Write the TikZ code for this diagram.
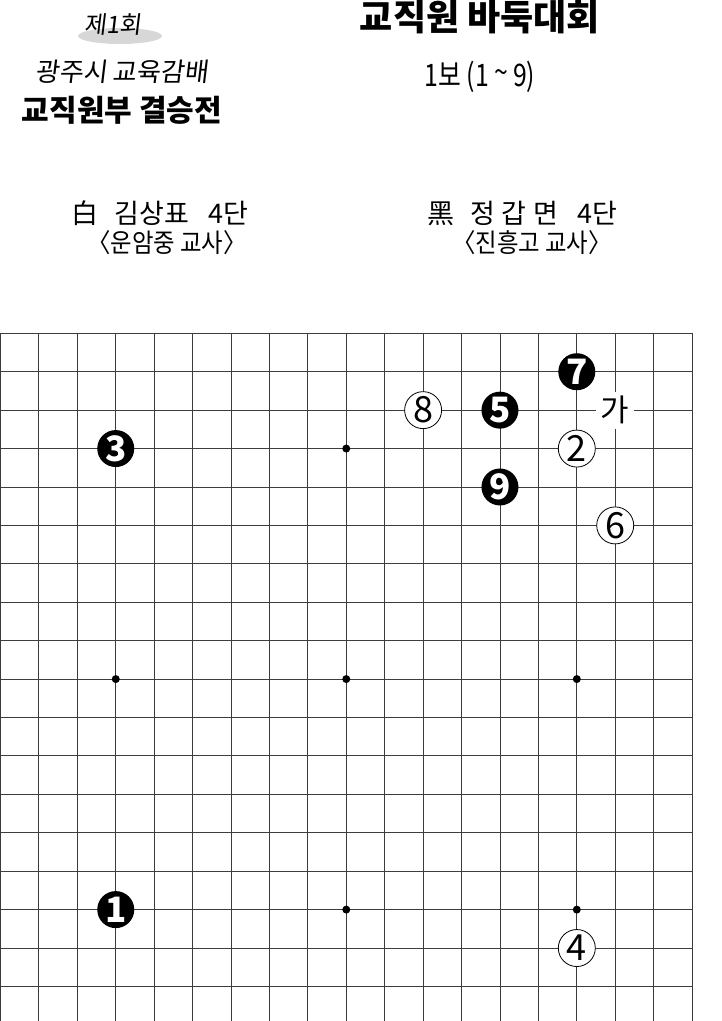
\documentclass[tikz,border=0pt]{standalone}
\usepackage{fontspec}
\setmainfont{Noto Sans CJK KR}
\newfontfamily\handkr[FakeSlant=0.12]{Noto Sans CJK KR}
\newfontfamily\narrowkr[FakeStretch=0.8]{Noto Sans CJK KR}
\newfontfamily\schoolkr[FakeStretch=0.9]{Noto Sans CJK KR}
\definecolor{gridgray}{RGB}{60,60,60}
\definecolor{badgegray}{RGB}{215,215,215}

\begin{document}
\begin{tikzpicture}[x=1pt,y=-1pt,
  bstone/.style={circle,fill=black,minimum size=37pt,inner sep=0pt,text=white,font=\bfseries\fontsize{35}{35}\selectfont},
  wstone/.style={circle,draw=black,line width=0.8pt,fill=white,minimum size=37pt,inner sep=0pt,font=\fontsize{36}{36}\selectfont},
  hoshi/.style={circle,fill=black,minimum size=8pt,inner sep=0pt}]
\useasboundingbox (0,0) rectangle (721,1021);
% heading
\fill[badgegray] (120,36) ellipse [x radius=42, y radius=8];
\node[font=\handkr\fontsize{24}{24}\selectfont] (round) at (113,25) {제1회};
\node[font=\handkr\fontsize{26}{26}\selectfont] (cup) at (122,72) {광주시 교육감배};
\node[font=\bfseries\fontsize{30}{30}\selectfont] (final) at (122,110) {교직원부 결승전};
\node[font=\bfseries\fontsize{36}{36}\selectfont] (title) at (480,17) {교직원 바둑대회};
\node[font=\narrowkr\fontsize{31}{31}\selectfont] (part) at (480,77) {1보 (1\,\raisebox{0.1em}{\textasciitilde}\,9)};
% players
\node[font=\fontsize{27}{27}\selectfont] (white) at (160,213) {白\hspace{0.6em}김상표\hspace{0.7em}4단};
\node[font=\schoolkr\fontsize{26}{26}\selectfont] (whiteschool) at (167,243) {〈운암중 교사〉};
\node[font=\fontsize{27}{27}\selectfont] (black) at (522,213) {黑\hspace{0.6em}정\hspace{0.25em}갑\hspace{0.25em}면\hspace{0.7em}4단};
\node[font=\schoolkr\fontsize{26}{26}\selectfont] (blackschool) at (532,243) {〈진흥고 교사〉};
% board
\begin{scope}[shift={(0.5,333.3)},x=38.42pt,y=-38.42pt]
\foreach \k in {0,...,18}
  \draw[gridgray,line width=0.9pt] (\k,0) -- (\k,17.95);
\foreach \r in {0,...,17}
  \draw[gridgray,line width=0.9pt] (0,\r) -- (18,\r);
\foreach \k/\r in {9/3,15/3,3/9,9/9,15/9,9/15,15/15}
  \node[hoshi] (hoshi-\k-\r) at (\k,\r) {};
\node[bstone] (m1) at (3,15) {1};
\node[wstone] (m2) at (15,3) {2};
\node[bstone] (m3) at (3,3) {3};
\node[wstone] (m4) at (15,16) {4};
\node[bstone] (m5) at (13,2) {5};
\node[wstone] (m6) at (16,5) {6};
\node[bstone] (m7) at (15,1) {7};
\node[wstone] (m8) at (11,2) {8};
\node[bstone] (m9) at (13,4) {9};
\node[fill=white,minimum width=38pt,minimum height=37pt,inner sep=0pt,font=\fontsize{31}{31}\selectfont] (ga) at (16,2) {가};
\end{scope}
\end{tikzpicture}
\end{document}
